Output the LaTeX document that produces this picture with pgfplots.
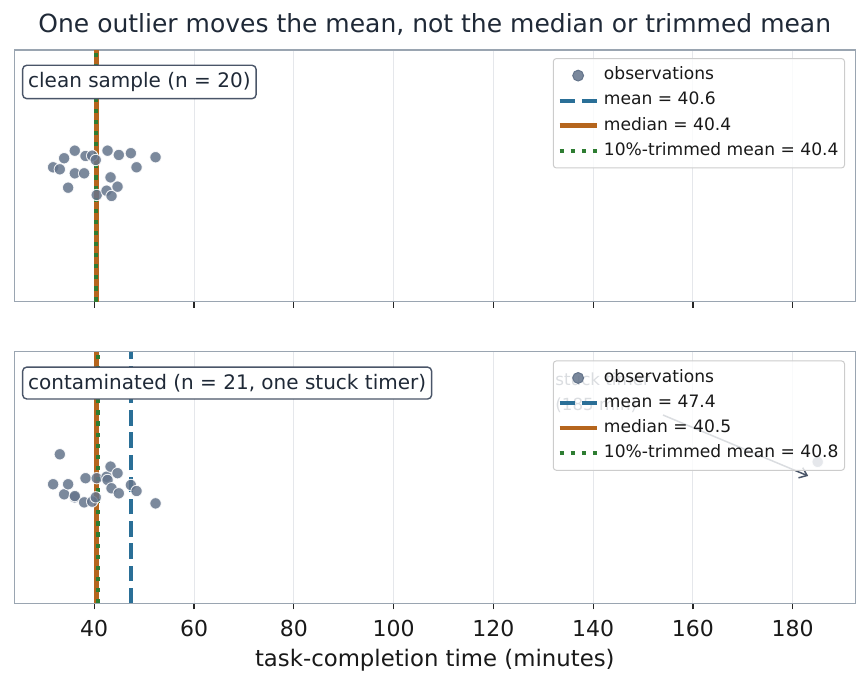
\documentclass[border=0pt]{standalone}
\usepackage{fontspec}
\setmainfont{DejaVu Sans}
\usepackage{pgfplots}
\usepackage{pgfplotstable}
\pgfplotsset{compat=1.18}
\usetikzlibrary{arrows.meta}

\definecolor{obs}{HTML}{64748B}
\definecolor{meanc}{HTML}{2A6F97}
\definecolor{medc}{HTML}{B5651D}
\definecolor{trimc}{HTML}{2E7D32}
\definecolor{spine}{HTML}{9AA5B1}
\definecolor{boxedge}{HTML}{4A5568}
\definecolor{titlec}{HTML}{1F2937}
\definecolor{gridc}{HTML}{E5E7EB}

% completion times (minutes) with vertical jitter for each panel
\pgfplotstableread{
x      yc     yd
31.76  0.534  0.473
33.10  0.526  0.592
33.97  0.570  0.433
34.77  0.453  0.473
36.10  0.600  0.421
36.11  0.510  0.426
37.98  0.510  0.401
38.26  0.579  0.497
39.58  0.580  0.404
40.30  0.563  0.421
40.50  0.424  0.497
42.47  0.441  0.503
42.67  0.600  0.490
43.27  0.494  0.543
43.47  0.420  0.457
44.67  0.457  0.517
44.93  0.583  0.437
47.34  0.590  0.470
48.48  0.534  0.446
52.29  0.574  0.397
}\obstable

% the stuck timer
\pgfplotstableread{
x    y
185  0.562
}\outliertable

\tikzset{
  panelbox/.style={draw=boxedge, fill=white, rounded corners=4bp, line width=1.4bp,
    anchor=west, inner xsep=5.5bp, inner ysep=7bp,
    font=\fontsize{20bp}{24bp}\selectfont, text=titlec},
}

\pgfplotsset{
  panel/.style={
    scale only axis, width=841.2bp, height=251.7bp,
    xmin=24.0, xmax=192.6, ymin=0, ymax=1,
    xtick={40,60,...,180}, ytick=\empty,
    xtick pos=left, tick align=outside, major tick length=6bp,
    tick style={line width=1.2bp, color=black!85},
    axis line style={spine, line width=1.5bp},
    xmajorgrids, grid style={gridc, line width=1bp},
    tick label style={font=\fontsize{22bp}{26bp}\selectfont, text=black!90},
    xticklabel style={yshift=-7bp},
    /pgf/number format/assume math mode=true,
    legend cell align=left,
    legend image code/.code={\draw[##1] (0bp,0bp) -- (37bp,0bp);},
    legend style={
      anchor=north east,
      draw=black!20, line width=1bp, rounded corners=3bp,
      fill=white, fill opacity=0.8, text opacity=1,
      font=\fontsize{17.1bp}{20bp}\selectfont,
      inner xsep=4bp, inner ysep=4.5bp,
      column sep=3bp, row sep=0bp,
      nodes={inner xsep=2bp, inner ysep=4.3bp, text height=12.5bp, text depth=4bp, text=black!90},
    },
  },
  obsmarks/.style={
    only marks, mark=*, mark size=5.7bp,
    mark options={fill=obs, draw=white, line width=0.9bp, opacity=0.85},
    legend image code/.code={\fill[obs, fill opacity=0.85] (18.5bp,0bp) circle (5.4bp);},
  },
  meanline/.style={meanc, line width=4.2bp, dash pattern=on 15.5bp off 6.7bp},
  medline/.style={medc, line width=4.6bp},
  trimline/.style={trimc, line width=4.2bp, dash pattern=on 4.2bp off 6.9bp},
}

\begin{document}
\begin{tikzpicture}
\useasboundingbox (0bp,0bp) rectangle (867bp,688bp);

\node[anchor=base, font=\fontsize{25bp}{30bp}\selectfont, text=titlec]
  at (434.8bp,655bp) {One outlier moves the mean, not the median or trimmed mean};

% clean sample
\begin{axis}[panel, at={(14.4bp,386.3bp)}, anchor=south west, xticklabel=\empty,
  legend style={at={(rel axis cs:0.9874,0.968)}}]
\addplot[obsmarks] table[x=x, y=yc] \obstable;
\addlegendentry{observations}
\addplot[meanline] coordinates {(40.6,0) (40.6,1)};
\addlegendentry{mean = 40.6}
\addplot[medline] coordinates {(40.4,0) (40.4,1)};
\addlegendentry{median = 40.4}
\addplot[trimline] coordinates {(40.4,0) (40.4,1)};
\addlegendentry{10\%-trimmed mean = 40.4}
\node[panelbox] at (rel axis cs:0.009,0.873) {clean sample (n = 20)};
\end{axis}

% contaminated sample
\begin{axis}[panel, at={(14.4bp,84.7bp)}, anchor=south west,
  legend style={at={(rel axis cs:0.9874,0.965)}}]
% annotation for the stuck timer, kept beneath the legend
\addplot[forget plot, draw=none] coordinates {(132.4,0.915)}
  node[anchor=north west, align=left, inner sep=0pt, text=boxedge,
  font=\fontsize{16.7bp}{25bp}\selectfont] {stuck timer\\(185 min)};
\addplot[forget plot, boxedge, line width=1.5bp, -{Straight Barb[length=7bp, width=11bp]}]
  coordinates {(154.0,0.748) (183.1,0.506)};
\addplot[obsmarks] table[x=x, y=yd] \obstable;
\addlegendentry{observations}
\addplot[obsmarks, forget plot] table[x=x, y=y] \outliertable;
\addplot[meanline] coordinates {(47.4,0) (47.4,1)};
\addlegendentry{mean = 47.4}
\addplot[medline] coordinates {(40.5,0) (40.5,1)};
\addlegendentry{median = 40.5}
\addplot[trimline] coordinates {(40.8,0) (40.8,1)};
\addlegendentry{10\%-trimmed mean = 40.8}
\node[panelbox] at (rel axis cs:0.009,0.875) {contaminated (n = 21, one stuck timer)};
\end{axis}

\node[anchor=base, font=\fontsize{22.8bp}{27bp}\selectfont, text=black!90]
  at (434.8bp,22bp) {task-completion time (minutes)};
\end{tikzpicture}
\end{document}
